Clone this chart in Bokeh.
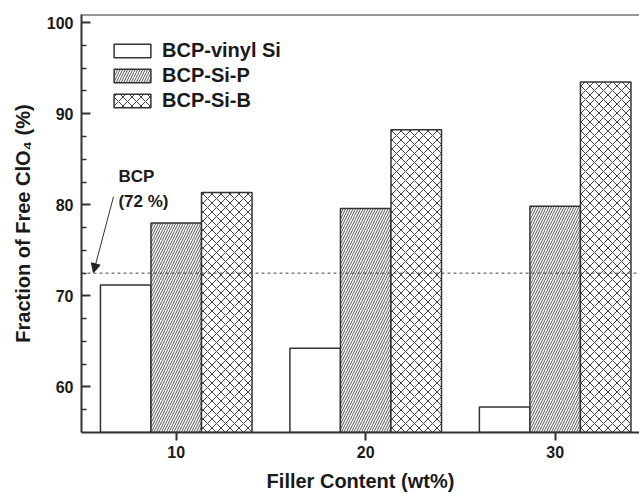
import numpy as np
from bokeh.plotting import figure
from bokeh.models import (ColumnDataSource, Range1d, FixedTicker, Legend,
                          LegendItem, Span, Label, Arrow, NormalHead)
from bokeh.embed import file_html
from bokeh.resources import INLINE

filler = [10, 20, 30]
vinyl_si = [71.2, 64.25, 57.8]
si_p = [78.0, 79.6, 79.85]
si_b = [81.35, 88.25, 93.5]
bcp_ref = 72.5
y_ticks = [60, 70, 80, 90, 100]
series_names = ["BCP-vinyl Si", "BCP-Si-P", "BCP-Si-B"]

W = 8 / 3
Y0, Y1 = 55, 100.9
FONT = "Liberation Sans"
TXT = "#1a1a1a"
AX = "#333333"

p = figure(width=639, height=494, output_backend="svg", toolbar_location=None, title=None,
           x_range=Range1d(5, 34.45), y_range=Range1d(Y0, Y1),
           min_border_left=81, min_border_right=0, min_border_top=14, min_border_bottom=62)
p.outline_line_color = None
p.grid.visible = False
p.background_fill_color = "white"
p.border_fill_color = "white"

x = np.array(filler, dtype=float)
src = ColumnDataSource(dict(x0=x - W, x1=x, x2=x + W, v0=vinyl_si, v1=si_p, v2=si_b))

r0 = p.vbar(x="x0", top="v0", bottom=Y0, width=W, source=src, fill_color="white",
            line_color=AX, line_width=1.5)
r1 = p.vbar(x="x1", top="v1", bottom=Y0, width=W, source=src, fill_color="white",
            line_color=AX, line_width=1.5, hatch_pattern="right_diagonal_line",
            hatch_color="#555555", hatch_scale=5, hatch_weight=1)
r2 = p.vbar(x="x2", top="v2", bottom=Y0, width=W, source=src, fill_color="white",
            line_color=AX, line_width=1.5, hatch_pattern="diagonal_cross",
            hatch_color="#444444", hatch_scale=9, hatch_weight=1)

p.add_layout(Span(location=bcp_ref, dimension="width", line_color="#444444",
                  line_width=1, line_dash="3 3"))
# top frame line
p.add_layout(Span(location=Y1, dimension="width", line_color=AX, line_width=2))

# axes
xa = p.xaxis[0]
xa.ticker = FixedTicker(ticks=filler)
xa.axis_label = "Filler Content (wt%)"
ya = p.yaxis[0]
ya.ticker = FixedTicker(ticks=y_ticks, minor_ticks=[57.5, 62.5, 65, 67.5, 72.5, 75, 77.5,
                                                     82.5, 85, 87.5, 92.5, 95, 97.5])
ya.axis_label = "Fraction of Free ClO\u2084 (%)"
for a in (xa, ya):
    a.axis_line_width = 2
    a.axis_line_color = AX
    a.major_tick_line_color = AX
    a.major_tick_line_width = 2
    a.minor_tick_line_color = AX
    a.minor_tick_line_width = 1.5
    a.major_label_text_font = FONT
    a.major_label_text_font_style = "bold"
    a.major_label_text_font_size = "16px"
    a.major_label_text_color = TXT
    a.axis_label_text_font = FONT
    a.axis_label_text_font_style = "bold"
    a.axis_label_text_font_size = "20px"
    a.axis_label_text_color = TXT
xa.major_tick_in = 0
xa.major_tick_out = 8
xa.minor_tick_line_color = None
xa.major_label_standoff = 5
xa.axis_label_standoff = 9
ya.major_tick_in = 9
ya.major_tick_out = 0
ya.minor_tick_in = 5
ya.minor_tick_out = 0
ya.major_label_standoff = 8
ya.axis_label_standoff = 10

# annotation
p.add_layout(Label(x=6.95, y=82.1, text="BCP", text_font=FONT, text_font_style="bold",
                   text_font_size="17px", text_color=TXT))
p.add_layout(Label(x=6.95, y=79.35, text="(72 %)", text_font=FONT, text_font_style="bold",
                   text_font_size="17px", text_color=TXT))
p.add_layout(Arrow(x_start=6.69, y_start=80.9, x_end=5.63, y_end=72.55,
                   line_color="#333333", line_width=1,
                   end=NormalHead(size=9, fill_color="#222222", line_color="#222222")))

legend = Legend(items=[LegendItem(label=series_names[0], renderers=[r0]),
                       LegendItem(label=series_names[1], renderers=[r1]),
                       LegendItem(label=series_names[2], renderers=[r2])],
                location=(28, 320), margin=0, padding=0, spacing=2,
                glyph_width=46, glyph_height=17, label_standoff=7,
                label_text_font=FONT, label_text_font_style="bold",
                label_text_font_size="20px", label_text_color=TXT,
                border_line_color=None, background_fill_alpha=0)
p.add_layout(legend)

open("out.html", "w").write(file_html(p, INLINE))
